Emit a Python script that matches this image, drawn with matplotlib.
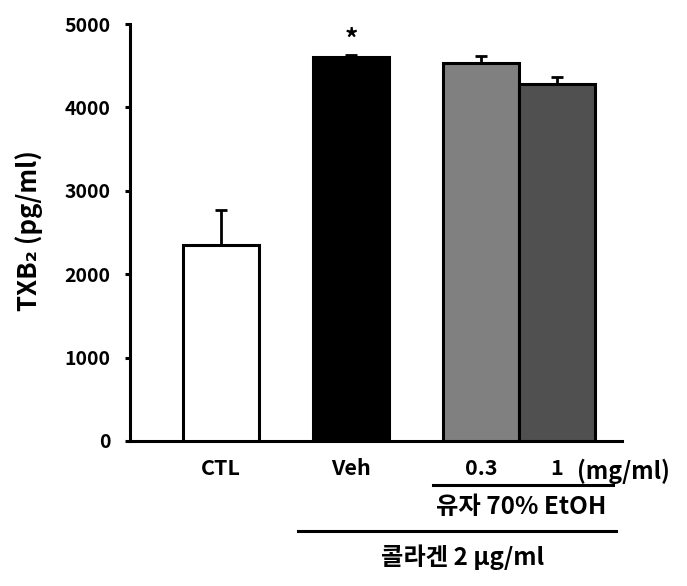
import matplotlib
matplotlib.use("Agg")
import matplotlib.pyplot as plt
import matplotlib.transforms as mtransforms
from matplotlib.lines import Line2D

plt.rcParams['font.family'] = ['Noto Sans CJK KR', 'DejaVu Sans']
plt.rcParams['font.weight'] = 'bold'

categories = ["CTL", "Veh", "0.3", "1"]
values = [2350, 4600, 4530, 4280]
errors = [420, 30, 85, 85]
colors = ["#ffffff", "#000000", "#808080", "#505050"]
positions = [0, 1, 2, 2.585]
yticks = [0, 1000, 2000, 3000, 4000, 5000]

W, H = 687, 586
fig = plt.figure(figsize=(W/100, H/100), dpi=100)
ax = fig.add_axes([130/W, (H-441)/H, (622-130)/W, (441-24)/H])

lw = 2.2
ax.bar(positions, values, width=0.585, color=colors, edgecolor="black",
       linewidth=lw, zorder=3)
ax.errorbar(positions, values, yerr=[[0]*4, errors], fmt="none",
            ecolor="black", elinewidth=2.0, capsize=4.0, capthick=2.0, zorder=2)

ax.set_ylim(0, 5000)
ax.set_xlim(-0.70, 3.085)
ax.set_yticks(yticks)
ax.set_yticklabels([str(t) for t in yticks], fontsize=14, fontweight='bold')
ax.set_xticks(positions)
ax.set_xticklabels(categories, fontsize=15.5, fontweight='bold')
for lab in ax.get_xticklabels():
    lab.set_verticalalignment('center')
ax.tick_params(axis='x', length=0, pad=20)
ax.tick_params(axis='y', length=3.8, width=lw, direction='out', pad=10.5)

for s in ["top", "right"]:
    ax.spines[s].set_visible(False)
ax.spines["left"].set_linewidth(lw)
ax.spines["bottom"].set_linewidth(lw)

fig.text(29/W, (H-231)/H, "TXB₂ (pg/ml)", rotation=90, ha='center', va='center',
         fontsize=18.5, fontweight='bold')

# asterisk
ax.text(positions[1], values[1] + errors[1] + 170, "*", ha='center', va='center',
        fontsize=19, fontweight='bold')

trans = mtransforms.blended_transform_factory(ax.transData, fig.transFigure)
ax.text(2.74, (H-471)/H, "(mg/ml)", transform=trans, ha='left', va='center',
        fontsize=16.8, fontweight='bold')

fig.add_artist(Line2D([1.63, 3.015], [(H-484.5)/H]*2, transform=trans,
                      color='black', linewidth=2.2))
ax.text(2.31, (H-507)/H, "유자 70% EtOH", transform=trans, ha='center',
        va='center', fontsize=17.5, fontweight='bold')
fig.add_artist(Line2D([0.592, 3.04], [(H-531)/H]*2, transform=trans,
                      color='black', linewidth=2.2))
ax.text(1.86, (H-557)/H, "콜라겐 2 μg/ml", transform=trans, ha='center',
        va='center', fontsize=17.5, fontweight='bold')

fig.savefig("out.png", dpi=100)
